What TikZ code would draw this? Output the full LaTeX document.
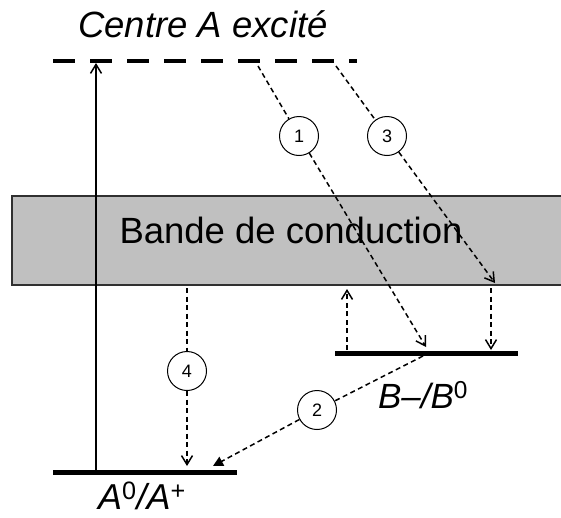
\documentclass[tikz,border=0pt]{standalone}
\usepackage{fontspec}
\setmainfont{Liberation Sans}
\usetikzlibrary{arrows.meta}
\definecolor{bandgray}{HTML}{C0C0C0}
\definecolor{bandedge}{HTML}{303030}
\begin{document}
\begin{tikzpicture}[x=1pt,y=-1pt,
  level/.style={line width=5pt},
  trans/.style={line width=1.5pt, dash pattern=on 5pt off 3.5pt},
  barb/.style={-{Straight Barb[length=9pt,width=11pt,line width=1.5pt]}},
  tri/.style={-{Triangle[length=10pt,width=10pt]}},
  num/.style={circle, draw, line width=1pt, minimum size=39pt, inner sep=0pt,
    fill=white, font=\fontsize{18}{18}\selectfont},
  big/.style={font=\fontsize{36.5}{40}\selectfont, inner sep=0pt, anchor=base}]
\useasboundingbox (0,0) rectangle (561,517);
% conduction band
\fill[bandgray] (12,196) rectangle (561,285);
\draw[bandedge, line width=2pt] (561,196) -- (12,196) -- (12,285) -- (561,285);
\node[big] (band) at (291,243) {Bande de conduction};
% levels
\coordinate (exL) at (53,61);
\coordinate (exR) at (357,61);
\draw[line width=4.5pt, dash pattern=on 22pt off 15pt] (exL) -- (exR);
\coordinate (aL) at (53,472);
\coordinate (aR) at (237,472);
\draw[level] (aL) -- (aR);
\coordinate (bL) at (335,353);
\coordinate (bR) at (518,353);
\draw[level] (bL) -- (bR);
% labels
\node[big, font=\fontsize{36.5}{40}\selectfont\itshape] (ttl) at (203,37.5) {Centre A excité};
\node[big, font=\fontsize{35}{40}\selectfont\itshape] (blab) at (423,408) {B–/B\textsuperscript{\upshape 0}};
\node[big, font=\fontsize{36}{40}\selectfont\itshape] (alab) at (142,509) {A\textsuperscript{\upshape 0}/A\textsuperscript{\upshape +}};
% excitation
\coordinate (exA) at (96,472);
\coordinate (exT) at (96,63);
\draw[line width=1.4pt, barb] (exA) -- (exT);
% transition 1
\coordinate (s1) at (258,66);
\coordinate (e1) at (426,347);
\node[num] (c1) at (299,136) {1};
\draw[trans] (s1) -- (c1);
\draw[trans, barb] (c1) -- (e1);
% transition 3
\coordinate (s3) at (336,66);
\coordinate (e3) at (495,283);
\node[num] (c3) at (387,136) {3};
\draw[trans] (s3) -- (c3);
\draw[trans, barb] (c3) -- (e3);
% band -> B
\coordinate (sd) at (491,288);
\coordinate (ed) at (491,350);
\draw[trans, barb] (sd) -- (ed);
% B -> band
\coordinate (su) at (347,350);
\coordinate (eu) at (347,289);
\draw[trans, barb] (su) -- (eu);
% transition 4
\coordinate (s4) at (187,288);
\coordinate (e4) at (187,466);
\node[num] (c4) at (187,371) {4};
\draw[trans] (s4) -- (c4);
\draw[trans, barb] (c4) -- (e4);
% transition 2
\coordinate (s2) at (423,356);
\coordinate (e2) at (213,466);
\node[num] (c2) at (317,410) {2};
\draw[trans] (s2) -- (c2);
\draw[trans, tri] (c2) -- (e2);
\end{tikzpicture}
\end{document}
